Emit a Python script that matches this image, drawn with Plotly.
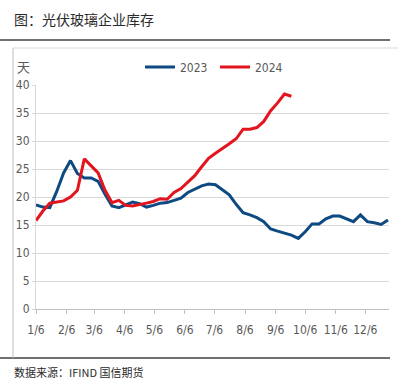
import pandas as pd
import plotly.graph_objects as go

# weekly observation dates (seasonal axis, one calendar year)
weeks = pd.date_range("2023-01-06", periods=52, freq="7D")

inv_2023 = [18.6, 18.2, 18.1, 21.0, 24.3, 26.5, 24.2, 23.4, 23.4, 22.8,
            20.5, 18.4, 18.1, 18.6, 19.1, 18.8, 18.2, 18.5, 18.9, 19.0,
            19.4, 19.8, 20.8, 21.4, 22.0, 22.3, 22.2, 21.3, 20.4, 18.7,
            17.2, 16.8, 16.3, 15.6, 14.3, 13.9, 13.6, 13.2, 12.6, 13.8,
            15.2, 15.2, 16.1, 16.6, 16.6, 16.1, 15.6, 16.8, 15.6, 15.4,
            15.1, 15.9]
inv_2024 = [15.8, 17.5, 18.9, 19.1, 19.3, 20.0, 21.2, 26.8, 25.6, 24.3,
            21.2, 19.0, 19.4, 18.5, 18.4, 18.6, 18.9, 19.2, 19.7, 19.6,
            20.8, 21.5, 22.6, 23.8, 25.4, 26.9, 27.8, 28.6, 29.5, 30.4,
            32.1, 32.1, 32.4, 33.5, 35.4, 36.8, 38.4, 38.0]

tick_dates = [f"2023-{m:02d}-06" for m in range(1, 13)]
tick_labels = ["1/6", "2/6", "3/6", "4/6", "5/6", "6/6", "7/6", "8/6",
               "9/6", "10/6", "11/6", "12/6"]
y_ticks = [0, 5, 10, 15, 20, 25, 30, 35, 40]

title_text = "图：光伏玻璃企业库存"
source_text = "数据来源：IFIND 国信期货"
unit_text = "天"

BLUE = "#0E4A82"
RED = "#E2141E"
GRAY_TXT = "#595959"
NARROW = "Liberation Sans Narrow, DejaVu Sans Condensed, Arial Narrow, sans-serif"
CJK = "Noto Sans CJK SC, sans-serif"

fig = go.Figure()
fig.add_trace(go.Scatter(x=weeks, y=inv_2023, name="2023", mode="lines",
                         line=dict(color=BLUE, width=3)))
fig.add_trace(go.Scatter(x=weeks[:len(inv_2024)], y=inv_2024, name="2024",
                         mode="lines", line=dict(color=RED, width=3)))

L, R, T, B = 36, 389, 85, 309
W, H = 398, 382
pw, ph = R - L, B - T


def px(x):
    return (x - L) / pw


def py(y):
    return (B - y) / ph


shapes = [
    dict(type="line", xref="paper", yref="paper", x0=px(0), x1=px(390),
         y0=py(40), y1=py(40), line=dict(color="#404040", width=1.5)),
    dict(type="line", xref="paper", yref="paper", x0=px(0), x1=px(390),
         y0=py(358), y1=py(358), line=dict(color="#404040", width=1.5)),
    dict(type="line", xref="paper", yref="paper", x0=px(13), x1=px(13),
         y0=py(48), y1=py(358), line=dict(color="#BFBFBF", width=1)),
    dict(type="line", xref="paper", yref="paper", x0=px(13), x1=px(398),
         y0=py(48), y1=py(48), line=dict(color="#D9D9D9", width=1)),
]

annotations = [
    dict(text=title_text, xref="paper", yref="paper", x=px(12), y=py(19),
         xanchor="left", yanchor="middle", showarrow=False,
         font=dict(family=CJK, size=14, color="#2a2a2a")),
    dict(text=source_text, xref="paper", yref="paper", x=px(12), y=py(372),
         xanchor="left", yanchor="middle", showarrow=False,
         font=dict(family=CJK, size=11, color="#2a2a2a")),
    dict(text=unit_text, xref="paper", yref="paper", x=px(23), y=py(66),
         xanchor="center", yanchor="middle", showarrow=False,
         font=dict(family=CJK, size=13, color=GRAY_TXT)),
]

fig.update_layout(
    width=W, height=H,
    margin=dict(l=L, r=W - R, t=T, b=H - B, pad=0),
    paper_bgcolor="white", plot_bgcolor="white",
    showlegend=True,
    legend=dict(orientation="h", x=px(140), xanchor="left", y=py(67),
                yanchor="middle", font=dict(family=NARROW, size=12, color=GRAY_TXT),
                bgcolor="rgba(0,0,0,0)", entrywidth=30, entrywidthmode="pixels",
                itemwidth=30),
    shapes=shapes,
    annotations=annotations,
    xaxis=dict(type="date", range=["2023-01-06", "2023-12-30"],
               tickvals=tick_dates, ticktext=tick_labels,
               showgrid=False, showline=True, linecolor="#BFBFBF", linewidth=1,
               ticks="outside", ticklen=4, tickcolor="#BFBFBF",
               ticklabelstandoff=6,
               tickfont=dict(family=NARROW, size=12, color=GRAY_TXT)),
    yaxis=dict(range=[0, 40], tickvals=y_ticks,
               showgrid=True, gridcolor="#D9D9D9", gridwidth=1,
               showline=True, linecolor="#D9D9D9", linewidth=1,
               ticks="outside", ticklen=3, tickcolor="#D9D9D9",
               zeroline=False,
               tickfont=dict(family=NARROW, size=12, color=GRAY_TXT)),
)

fig.write_html("out.html",
               config={"displayModeBar": False, "staticPlot": True},
               post_script="document.body.style.margin='0px';"
                           "document.body.style.overflow='hidden';")
